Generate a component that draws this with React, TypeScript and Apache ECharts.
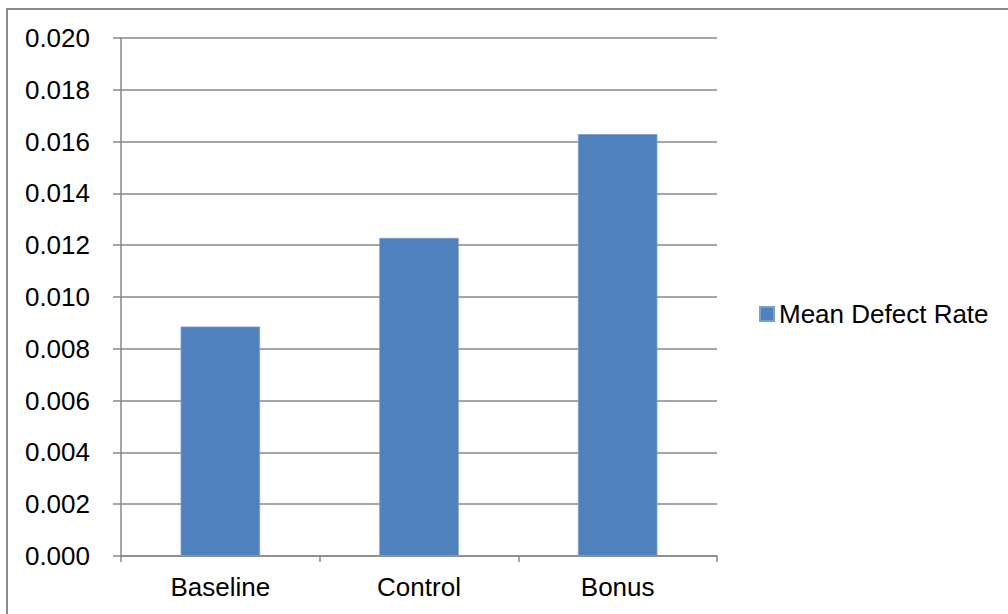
import React, { useEffect, useRef } from "react";
import * as echarts from "echarts";

const categories = ["Baseline", "Control", "Bonus"];
const seriesName = "Mean Defect Rate";
const meanDefectRate = [0.00886, 0.01228, 0.01629];
const yMin = 0;
const yMax = 0.02;
const yInterval = 0.002;

const FONT = "'Liberation Sans', Arial, sans-serif";

export default function App() {
  const ref = useRef<HTMLDivElement>(null);
  useEffect(() => {
    if (!ref.current) return;
    const chart = echarts.init(ref.current, undefined, { renderer: "svg" });
    chart.setOption({
      animation: false,
      backgroundColor: "#ffffff",
      textStyle: { fontFamily: FONT },
      graphic: [
        {
          type: "rect",
          shape: { x: 7, y: 9, width: 1100, height: 700 },
          style: { fill: "none", stroke: "#8a8a8a", lineWidth: 2 },
          silent: true,
        },
      ],
      grid: { left: 121, right: 291, top: 38, bottom: 58, containLabel: false },
      legend: {
        data: [seriesName],
        left: 759,
        top: 301,
        padding: 0,
        itemWidth: 14,
        itemHeight: 14,
        icon: "rect",
        textStyle: { fontSize: 26, lineHeight: 26, color: "#000", fontFamily: FONT },
      },
      xAxis: {
        type: "category",
        data: categories,
        axisLine: { show: true, lineStyle: { color: "#888888", width: 1.5 } },
        axisTick: { show: true, length: 6, lineStyle: { color: "#888888", width: 1.5 } },
        axisLabel: { fontSize: 26, color: "#000", margin: 18, fontFamily: FONT },
        splitLine: { show: false },
      },
      yAxis: {
        type: "value",
        min: yMin,
        max: yMax,
        interval: yInterval,
        axisLine: { show: true, lineStyle: { color: "#888888", width: 1.5 } },
        axisTick: { show: true, length: 8, lineStyle: { color: "#888888", width: 1.5 } },
        axisLabel: {
          fontSize: 26,
          color: "#000",
          margin: 31,
          fontFamily: FONT,
          formatter: (v: number) => v.toFixed(3),
        },
        splitLine: { show: true, lineStyle: { color: "#888888", width: 1.5 } },
      },
      series: [
        {
          name: seriesName,
          type: "bar",
          data: meanDefectRate,
          barCategoryGap: "60%",
          itemStyle: { color: "#4F81BD", borderColor: "#7aa0d0", borderWidth: 0.8 },
        },
      ],
    });
    return () => chart.dispose();
  }, []);
  return (
    <div
      ref={ref}
      style={{ position: "absolute", left: 0, top: 0, width: 1008, height: 614 }}
    />
  );
}
